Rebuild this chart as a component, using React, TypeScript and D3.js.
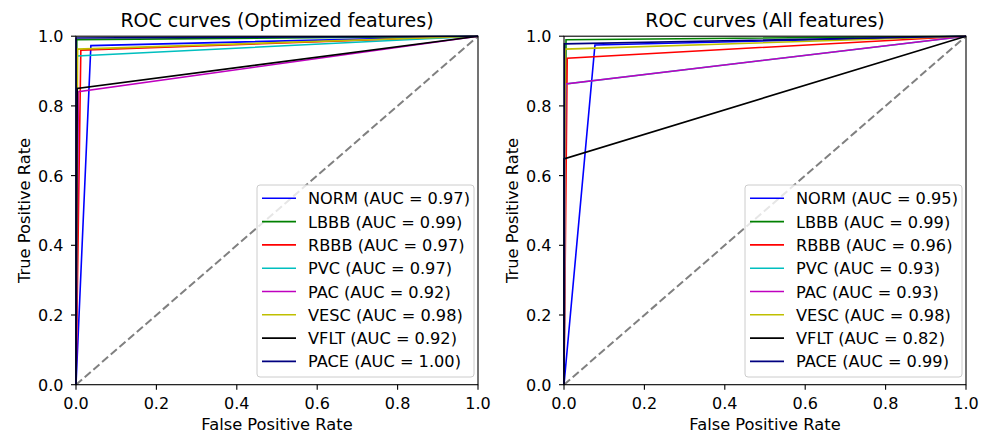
import React from "react";
import * as d3 from "d3";

const classes = ["NORM", "LBBB", "RBBB", "PVC", "PAC", "VESC", "VFLT", "PACE"];
const colors = ["#0000ff", "#008000", "#ff0000", "#00bfbf", "#bf00bf", "#bfbf00", "#000000", "#000080"];

// Optimized features: single operating point per class (fpr, tpr) and AUC
const optFpr = [0.037, 0.002, 0.012, 0.003, 0.006, 0.004, 0.003, 0.0];
const optTpr = [0.973, 0.99, 0.96, 0.943, 0.841, 0.963, 0.85, 0.995];
const optAuc = ["0.97", "0.99", "0.97", "0.97", "0.92", "0.98", "0.92", "1.00"];

// All features
const allFpr = [0.077, 0.005, 0.008, 0.004, 0.004, 0.003, 0.0, 0.001];
const allTpr = [0.975, 0.99, 0.937, 0.863, 0.863, 0.963, 0.648, 0.978];
const allAuc = ["0.95", "0.99", "0.96", "0.93", "0.93", "0.98", "0.82", "0.99"];

const ticks = [0, 0.2, 0.4, 0.6, 0.8, 1.0];

const FONT = "'DejaVu Sans', sans-serif";

type PanelProps = {
  x0: number;
  title: string;
  fpr: number[];
  tpr: number[];
  auc: string[];
};

function Panel({ x0, title, fpr, tpr, auc }: PanelProps) {
  const W = 402;
  const top = 36.2;
  const bottom = 384.7;
  const x = d3.scaleLinear().domain([0, 1]).range([x0, x0 + W]);
  const y = d3.scaleLinear().domain([0, 1]).range([bottom, top]);
  const line = d3
    .line<[number, number]>()
    .x((d) => x(d[0]))
    .y((d) => y(d[1]));

  const legX = x0 + 181;
  const legY = 185;
  const legW = 217;
  const legH = 192;
  const rowH = 23.3;

  return (
    <g>
      <text x={x0 + W / 2} y={27} textAnchor="middle" fontFamily={FONT} fontSize={19} fill="#000">
        {title}
      </text>
      <line x1={x(0)} y1={y(0)} x2={x(1)} y2={y(1)} stroke="#808080" strokeWidth={2} strokeDasharray="8,3.5" />
      {classes.map((c, i) => (
        <path
          key={c}
          d={line([
            [0, 0],
            [fpr[i], tpr[i]],
            [1, 1],
          ]) as string}
          fill="none"
          stroke={colors[i]}
          strokeWidth={1.6}
        />
      ))}
      <rect x={x0} y={top} width={W} height={bottom - top} fill="none" stroke="#000" strokeWidth={1.1} />
      {ticks.map((t) => (
        <g key={"x" + t}>
          <line x1={x(t)} x2={x(t)} y1={bottom} y2={bottom + 5} stroke="#000" strokeWidth={1.1} />
          <text x={x(t)} y={409} textAnchor="middle" fontFamily={FONT} fontSize={16}>
            {t.toFixed(1)}
          </text>
          <line x1={x0 - 5} x2={x0} y1={y(t)} y2={y(t)} stroke="#000" strokeWidth={1.1} />
          <text x={x0 - 12.5} y={y(t) + 6} textAnchor="end" fontFamily={FONT} fontSize={16}>
            {t.toFixed(1)}
          </text>
        </g>
      ))}
      <text x={x0 + W / 2} y={430} textAnchor="middle" fontFamily={FONT} fontSize={16.3}>
        False Positive Rate
      </text>
      <text
        transform={`translate(${x0 - 46.5},${(top + bottom) / 2}) rotate(-90)`}
        textAnchor="middle"
        fontFamily={FONT}
        fontSize={16.3}
      >
        True Positive Rate
      </text>
      <rect x={legX} y={legY} width={legW} height={legH} rx={3} fill="#fff" fillOpacity={0.8} stroke="#cccccc" strokeWidth={1} />
      {classes.map((c, i) => (
        <g key={"l" + c}>
          <line
            x1={legX + 5}
            x2={legX + 39}
            y1={legY + 13.3 + i * rowH}
            y2={legY + 13.3 + i * rowH}
            stroke={colors[i]}
            strokeWidth={1.6}
          />
          <text x={legX + 51} y={legY + 13.3 + i * rowH + 6} fontFamily={FONT} fontSize={16.2}>
            {`${c} (AUC = ${auc[i]})`}
          </text>
        </g>
      ))}
    </g>
  );
}

export default function App() {
  return (
    <svg
      width={990}
      height={434}
      style={{ position: "absolute", left: 0, top: 0, background: "#fff" }}
    >
      <rect width={990} height={434} fill="#fff" />
      <Panel x0={76} title="ROC curves (Optimized features)" fpr={optFpr} tpr={optTpr} auc={optAuc} />
      <Panel x0={564} title="ROC curves (All features)" fpr={allFpr} tpr={allTpr} auc={allAuc} />
    </svg>
  );
}
